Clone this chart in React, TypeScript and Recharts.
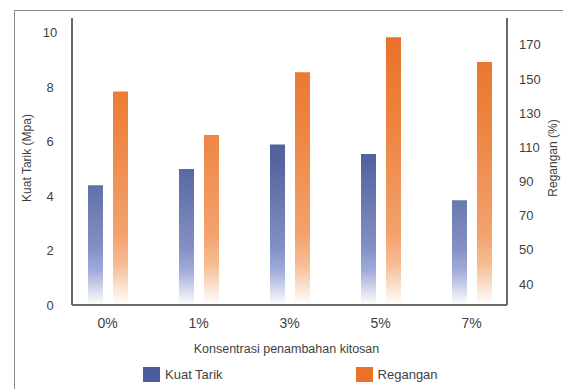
import { Bar, BarChart, Legend, XAxis, YAxis } from "recharts";

const categories = ["0%", "1%", "3%", "5%", "7%"];
const kuatTarik = [4.4, 5.0, 5.9, 5.55, 3.85];
const regangan = [142.7, 117.3, 154, 174.5, 160];

const kuatTicks = [0, 2, 4, 6, 8, 10];
const reganganTicks = [30, 50, 70, 90, 110, 130, 150, 170];
const reganganTickLabels = ["40", "50", "70", "90", "110", "130", "150", "170"];

const data = categories.map((c, i) => ({
  name: c,
  kuat: kuatTarik[i],
  regangan: regangan[i],
}));

const FONT = "'Liberation Sans', Arial, sans-serif";
const TEXT = "#3f3f3f";
const AXIS = "#6d6965";
const BLUE = "#4d5c9c";
const ORANGE = "#ec7128";

const PLOT_TOP = 18;
const PLOT_BOTTOM = 305;

function LeftTick(props: any) {
  const { x, y, payload } = props;
  return (
    <text x={x - 22} y={y} dy={4.5} textAnchor="middle" fontSize={13} fill={TEXT} fontFamily={FONT}>
      {payload.value}
    </text>
  );
}

function RightTick(props: any) {
  const { x, y, payload } = props;
  const idx = reganganTicks.indexOf(payload.value);
  return (
    <text x={x} y={y} dy={4.5} textAnchor="start" fontSize={13} fill={TEXT} fontFamily={FONT}>
      {idx >= 0 ? reganganTickLabels[idx] : payload.value}
    </text>
  );
}

function sideLabel(text: string, dx: number) {
  return (props: any) => {
    const vb = props.viewBox || {};
    const cx = vb.x + dx;
    const cy = 158;
    return (
      <text
        x={cx}
        y={cy}
        transform={`rotate(-90, ${cx}, ${cy})`}
        textAnchor="middle"
        dominantBaseline="central"
        fontSize={12}
        fill={TEXT}
        fontFamily={FONT}
      >
        {text}
      </text>
    );
  };
}

function BottomLabel(props: any) {
  const vb = props.viewBox || {};
  return (
    <text
      x={vb.x + vb.width / 2 - 3}
      y={vb.y + 48}
      textAnchor="middle"
      fontSize={12.5}
      fill={TEXT}
      fontFamily={FONT}
    >
      Konsentrasi penambahan kitosan
    </text>
  );
}

function LegendBox() {
  const item = (color: string, label: string, ml: number) => (
    <div style={{ display: "flex", alignItems: "center", marginLeft: ml }}>
      <div style={{ width: 17, height: 15, background: color }} />
      <span style={{ marginLeft: 5, fontSize: 13, color: TEXT, fontFamily: FONT }}>{label}</span>
    </div>
  );
  return (
    <div style={{ display: "flex", alignItems: "center", height: 18 }}>
      {item(BLUE, "Kuat Tarik", 143)}
      {item(ORANGE, "Regangan", 133)}
    </div>
  );
}

export default function App() {
  return (
    <div style={{ position: "absolute", left: 0, top: 0, width: 563, height: 389, background: "#fff" }}>
      <div
        style={{
          position: "absolute",
          left: 14,
          top: 10,
          width: 549,
          height: 379,
          borderLeft: "1px solid #8c8c8c",
          borderTop: "1px solid #8c8c8c",
        }}
      />
      <div style={{ position: "absolute", left: 0, top: 0 }}>
        <BarChart
          width={563}
          height={389}
          data={data}
          margin={{ top: PLOT_TOP, right: 0, bottom: 32, left: 0 }}
          barSize={15}
          barGap={10}
        >
          <defs>
            <linearGradient id="fill-kuat" gradientUnits="userSpaceOnUse" x1="0" y1={PLOT_TOP} x2="0" y2={PLOT_BOTTOM}>
              <stop offset="0%" stopColor="#45538f" />
              <stop offset="50%" stopColor="#55649f" />
              <stop offset="80%" stopColor="#8390c6" />
              <stop offset="88%" stopColor="#a0abd9" />
              <stop offset="100%" stopColor="#ffffff" />
            </linearGradient>
            <linearGradient id="fill-regangan" gradientUnits="userSpaceOnUse" x1="0" y1={PLOT_TOP} x2="0" y2={PLOT_BOTTOM}>
              <stop offset="0%" stopColor="#e86d25" />
              <stop offset="40%" stopColor="#ed8642" />
              <stop offset="75%" stopColor="#f3a16c" />
              <stop offset="86%" stopColor="#f6bd94" />
              <stop offset="100%" stopColor="#ffffff" />
            </linearGradient>
          </defs>
          <XAxis
            dataKey="name"
            padding={{ left: -10, right: -10 }}
            height={52}
            axisLine={{ stroke: AXIS, strokeWidth: 2 }}
            tickLine={false}
            tickSize={6}
            tickMargin={7}
            tick={{ fontSize: 14, fill: TEXT, fontFamily: FONT }}
            label={BottomLabel}
          />
          <YAxis
            yAxisId="left"
            orientation="left"
            width={72}
            domain={[0, 10.55]}
            ticks={kuatTicks}
            interval={0}
            axisLine={{ stroke: AXIS, strokeWidth: 2 }}
            tickLine={false}
            tickSize={0}
            tickMargin={0}
            tick={LeftTick}
            label={sideLabel("Kuat Tarik (Mpa)", 27)}
          />
          <YAxis
            yAxisId="right"
            orientation="right"
            width={56}
            domain={[17.7, 185.8]}
            ticks={reganganTicks}
            interval={0}
            axisLine={{ stroke: AXIS, strokeWidth: 2 }}
            tickLine={false}
            tickSize={0}
            tickMargin={12}
            tick={RightTick}
            label={sideLabel("Regangan (%)", 46)}
          />
          <Legend
            verticalAlign="middle"
            layout="horizontal"
            wrapperStyle={{ left: 0, top: 365, width: 563 }}
            content={LegendBox}
          />
          <Bar yAxisId="left" dataKey="kuat" name="Kuat Tarik" fill="url(#fill-kuat)" isAnimationActive={false} />
          <Bar yAxisId="right" dataKey="regangan" name="Regangan" fill="url(#fill-regangan)" isAnimationActive={false} />
        </BarChart>
      </div>
    </div>
  );
}
